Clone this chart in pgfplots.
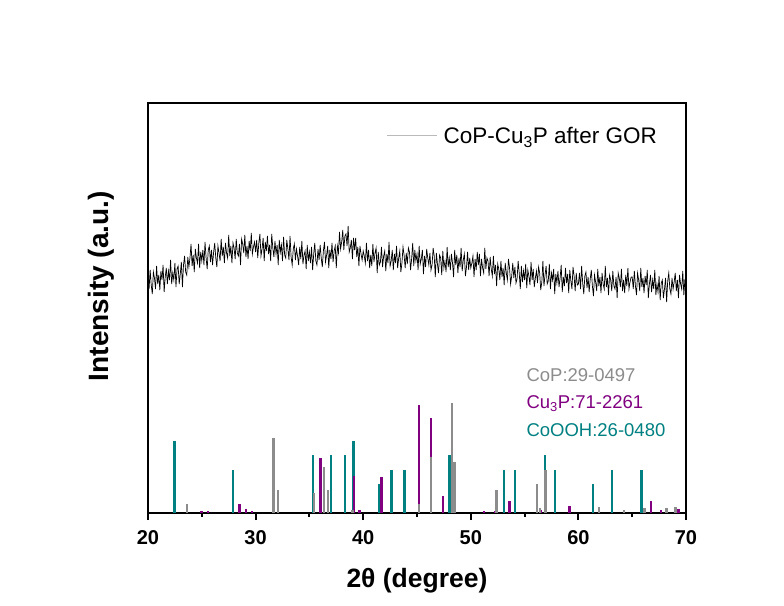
\documentclass[border=0pt]{standalone}
\usepackage{pgfplots}
\pgfplotsset{compat=1.18}
\usepackage{fontspec}
\setmainfont{Liberation Sans}
\definecolor{cgray}{RGB}{140,140,140}
\definecolor{cpurp}{RGB}{128,0,128}
\definecolor{cteal}{RGB}{0,128,128}
\begin{document}
\begin{tikzpicture}[x=1pt,y=1pt]
\useasboundingbox (-148,-92) rectangle (636,513);
\begin{axis}[at={(0,0)}, anchor=south west, scale only axis,
 width=538pt, height=410pt,
 xmin=20, xmax=70, ymin=0, ymax=410,
 axis line style={line width=2.6pt},
 ytick=\empty,
 xtick={20,30,40,50,60,70}, minor xtick={25,35,45,55,65},
 xtick pos=bottom, tick align=outside,
 major tick length=7pt, minor tick length=4pt,
 every tick/.style={black, line width=2pt},
 ticklabel style={font=\bfseries\fontsize{20}{24}\selectfont},
 xticklabel style={yshift=-7pt},
 /pgf/number format/assume math mode=true,
 xlabel={2θ (degree)}, ylabel={Intensity (a.u.)},
 xlabel style={at={(axis description cs:0.5,0)}, anchor=base, yshift=-74pt, font=\bfseries\fontsize{26.5}{30}\selectfont},
 ylabel style={at={(axis description cs:-0.0875,0.553)}, anchor=center, font=\bfseries\fontsize{28}{32}\selectfont},
 legend style={at={(axis description cs:0.4424,0.92)}, anchor=west, draw=none, fill=none, inner sep=0pt, font=\fontsize{22.5}{26}\selectfont,
   nodes={inner xsep=6.5pt}},
 legend image code/.code={\draw[cgray!60, line width=1pt] (0pt,0pt) -- (50pt,0pt);},
]
\addplot[black, line width=0.7pt] coordinates {
(20.0,236)(20.1,224)(20.2,243)(20.3,228)(20.4,219)(20.5,241)(20.6,235)(20.7,224)(20.8,247)(20.9,229)
(21.0,238)(21.1,223)(21.2,242)(21.3,233)(21.4,248)(21.5,221)(21.6,236)(21.7,245)(21.8,229)(21.9,242)
(22.0,233)(22.1,253)(22.2,229)(22.3,240)(22.4,233)(22.5,250)(22.6,226)(22.7,244)(22.8,247)(22.9,229)
(23.0,239)(23.1,251)(23.2,226)(23.3,248)(23.4,257)(23.5,241)(23.6,238)(23.7,256)(23.8,246)(23.9,255)
(24.0,269)(24.1,247)(24.2,258)(24.3,241)(24.4,264)(24.5,255)(24.6,250)(24.7,269)(24.8,245)(24.9,261)
(25.0,252)(25.1,263)(25.2,248)(25.3,271)(25.4,255)(25.5,244)(25.6,263)(25.7,267)(25.8,251)(25.9,263)
(26.0,248)(26.1,261)(26.2,270)(26.3,255)(26.4,246)(26.5,267)(26.6,260)(26.7,252)(26.8,274)(26.9,257)
(27.0,266)(27.1,250)(27.2,270)(27.3,260)(27.4,255)(27.5,278)(27.6,257)(27.7,267)(27.8,250)(27.9,270)
(28.0,265)(28.1,254)(28.2,274)(28.3,260)(28.4,257)(28.5,269)(28.6,248)(28.7,274)(28.8,269)(28.9,260)
(29.0,278)(29.1,256)(29.2,267)(29.3,254)(29.4,272)(29.5,262)(29.6,280)(29.7,259)(29.8,266)(29.9,271)
(30.0,261)(30.1,273)(30.2,255)(30.3,270)(30.4,279)(30.5,257)(30.6,264)(30.7,275)(30.8,252)(30.9,271)
(31.0,262)(31.1,277)(31.2,259)(31.3,268)(31.4,252)(31.5,279)(31.6,265)(31.7,256)(31.8,272)(31.9,259)
(32.0,268)(32.1,248)(32.2,273)(32.3,261)(32.4,268)(32.5,252)(32.6,276)(32.7,258)(32.8,255)(32.9,273)
(33.0,264)(33.1,253)(33.2,277)(33.3,256)(33.4,248)(33.5,264)(33.6,269)(33.7,253)(33.8,264)(33.9,257)
(34.0,248)(34.1,266)(34.2,254)(34.3,272)(34.4,249)(34.5,258)(34.6,262)(34.7,244)(34.8,268)(34.9,252)
(35.0,261)(35.1,250)(35.2,266)(35.3,243)(35.4,259)(35.5,270)(35.6,252)(35.7,248)(35.8,264)(35.9,253)
(36.0,268)(36.1,255)(36.2,246)(36.3,262)(36.4,271)(36.5,251)(36.6,258)(36.7,267)(36.8,245)(36.9,263)
(37.0,254)(37.1,270)(37.2,251)(37.3,262)(37.4,267)(37.5,245)(37.6,267)(37.7,260)(37.8,281)(37.9,264)
(38.0,271)(38.1,283)(38.2,263)(38.3,277)(38.4,279)(38.5,267)(38.6,287)(38.7,261)(38.8,265)(38.9,273)
(39.0,254)(39.1,275)(39.2,263)(39.3,275)(39.4,256)(39.5,266)(39.6,247)(39.7,267)(39.8,259)(39.9,253)
(40.0,262)(40.1,257)(40.2,250)(40.3,270)(40.4,252)(40.5,263)(40.6,245)(40.7,258)(40.8,247)(40.9,269)
(41.0,251)(41.1,260)(41.2,265)(41.3,240)(41.4,261)(41.5,248)(41.6,251)(41.7,266)(41.8,246)(41.9,257)
(42.0,262)(42.1,242)(42.2,259)(42.3,250)(42.4,271)(42.5,247)(42.6,252)(42.7,263)(42.8,243)(42.9,259)
(43.0,250)(43.1,267)(43.2,245)(43.3,255)(43.4,262)(43.5,241)(43.6,250)(43.7,266)(43.8,258)(43.9,245)
(44.0,260)(44.1,249)(44.2,265)(44.3,261)(44.4,243)(44.5,254)(44.6,270)(44.7,247)(44.8,263)(44.9,252)
(45.0,259)(45.1,243)(45.2,267)(45.3,249)(45.4,254)(45.5,263)(45.6,239)(45.7,257)(45.8,246)(45.9,264)
(46.0,255)(46.1,248)(46.2,260)(46.3,243)(46.4,248)(46.5,265)(46.6,257)(46.7,236)(46.8,260)(46.9,249)
(47.0,240)(47.1,258)(47.2,255)(47.3,238)(47.4,262)(47.5,245)(47.6,252)(47.7,241)(47.8,266)(47.9,246)
(48.0,255)(48.1,243)(48.2,259)(48.3,250)(48.4,236)(48.5,263)(48.6,248)(48.7,258)(48.8,240)(48.9,255)
(49.0,246)(49.1,265)(49.2,242)(49.3,253)(49.4,259)(49.5,237)(49.6,246)(49.7,261)(49.8,243)(49.9,255)
(50.0,245)(50.1,250)(50.2,257)(50.3,236)(50.4,254)(50.5,243)(50.6,261)(50.7,248)(50.8,259)(50.9,237)
(51.0,254)(51.1,245)(51.2,240)(51.3,265)(51.4,244)(51.5,255)(51.6,252)(51.7,237)(51.8,256)(51.9,244)
(52.0,237)(52.1,257)(52.2,239)(52.3,248)(52.4,227)(52.5,249)(52.6,244)(52.7,233)(52.8,252)(52.9,236)
(53.0,245)(53.1,228)(53.2,250)(53.3,240)(53.4,233)(53.5,254)(53.6,245)(53.7,229)(53.8,237)(53.9,250)
(54.0,235)(54.1,246)(54.2,230)(54.3,234)(54.4,252)(54.5,240)(54.6,224)(54.7,247)(54.8,231)(54.9,242)
(55.0,233)(55.1,249)(55.2,225)(55.3,243)(55.4,237)(55.5,228)(55.6,251)(55.7,233)(55.8,244)(55.9,226)
(56.0,235)(56.1,242)(56.2,230)(56.3,246)(56.4,240)(56.5,223)(56.6,231)(56.7,252)(56.8,227)(56.9,238)
(57.0,247)(57.1,229)(57.2,232)(57.3,249)(57.4,224)(57.5,240)(57.6,233)(57.7,244)(57.8,219)(57.9,239)
(58.0,230)(58.1,242)(58.2,226)(58.3,235)(58.4,248)(58.5,221)(58.6,236)(58.7,227)(58.8,245)(58.9,230)
(59.0,239)(59.1,220)(59.2,243)(59.3,232)(59.4,224)(59.5,246)(59.6,237)(59.7,222)(59.8,240)(59.9,228)
(60.0,229)(60.1,240)(60.2,224)(60.3,247)(60.4,230)(60.5,219)(60.6,237)(60.7,241)(60.8,225)(60.9,236)
(61.0,221)(61.1,234)(61.2,243)(61.3,227)(61.4,217)(61.5,238)(61.6,231)(61.7,222)(61.8,244)(61.9,227)
(62.0,236)(62.1,220)(62.2,240)(62.3,229)(62.4,224)(62.5,247)(62.6,226)(62.7,235)(62.8,218)(62.9,238)
(63.0,233)(63.1,222)(63.2,242)(63.3,227)(63.4,224)(63.5,236)(63.6,215)(63.7,240)(63.8,235)(63.9,226)
(64.0,244)(64.1,222)(64.2,233)(64.3,220)(64.4,238)(64.5,227)(64.6,245)(64.7,224)(64.8,231)(64.9,236)
(65.0,236)(65.1,224)(65.2,242)(65.3,227)(65.4,218)(65.5,240)(65.6,233)(65.7,222)(65.8,245)(65.9,226)
(66.0,235)(66.1,220)(66.2,237)(66.3,228)(66.4,243)(66.5,215)(66.6,229)(66.7,238)(66.8,221)(66.9,233)
(67.0,224)(67.1,243)(67.2,218)(67.3,229)(67.4,221)(67.5,237)(67.6,213)(67.7,230)(67.8,233)(67.9,215)
(68.0,224)(68.1,235)(68.2,211)(68.3,232)(68.4,240)(68.5,224)(68.6,219)(68.7,235)(68.8,224)(68.9,231)
(69.0,240)(69.1,222)(69.2,233)(69.3,215)(69.4,238)(69.5,229)(69.6,224)(69.7,242)(69.8,218)(69.9,234)
(70.0,225)
};
\addlegendentry{CoP-Cu\textsubscript{3}P after GOR}
% CoOOH:26-0480
\addplot[ycomb, cteal, line width=2.4pt, forget plot] coordinates {
(22.48,72)(27.9,43)(35.33,58)(37.0,58)(38.31,58)(39.08,72)(41.47,29)(42.64,43)(43.85,43)
(48.03,58)(53.09,43)(54.08,43)(56.87,58)(57.8,43)(61.33,29)(63.15,43)(65.88,43)
};
% Cu3P:71-2261
\addplot[ycomb, cpurp, line width=2.4pt, forget plot] coordinates {
(24.96,2)(25.6,2)(28.5,9)(29.08,4)(29.67,2)(36.05,55)(39.14,37)(39.64,3)(41.69,36)
(45.19,108)(46.3,95)(47.39,17)(51.2,2)(52.3,2)(53.59,12)(56.5,3)(59.16,7)
(66.72,12)(67.65,3)(69.1,4)(69.35,4)
};
% CoP:29-0497
\addplot[ycomb, cgray, line width=2.4pt, forget plot] coordinates {
(23.65,9)(31.65,75)(32.08,23)(35.4,20)(36.35,46)(36.73,23)(39.0,3)(45.19,9)(46.3,56)
(48.25,110)(48.5,51)(52.4,23)(56.18,29)(56.43,5)(56.93,43)(61.9,6)(64.24,3)(66.13,5)
(68.2,5)(69.04,6)
};
\node[anchor=base west, text=cgray, font=\fontsize{18.5}{22}\selectfont] at (axis description cs:0.697,0.320) {CoP:29-0497};
\node[anchor=base west, text=cpurp, font=\fontsize{18.5}{22}\selectfont] at (axis description cs:0.697,0.256) {Cu\textsubscript{3}P:71-2261};
\node[anchor=base west, text=cteal, font=\fontsize{18.5}{22}\selectfont] at (axis description cs:0.697,0.186) {CoOOH:26-0480};
\end{axis}
\end{tikzpicture}
\end{document}
